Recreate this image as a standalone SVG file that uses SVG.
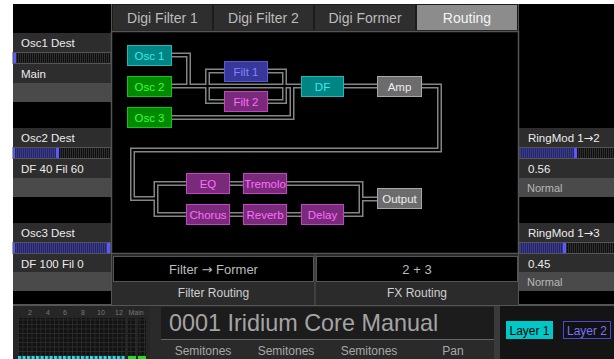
<svg xmlns="http://www.w3.org/2000/svg" width="614" height="359" viewBox="0 0 614 359">
<style>
text{font-family:"Liberation Sans",Arial,sans-serif}
.ar{font-family:"DejaVu Sans",sans-serif}
.lbl{font-size:11.5px;fill:#ececec}
.nrm{font-size:11px;fill:#b8b8b8}
.tab{font-size:14px;fill:#bdbdbd;text-anchor:middle}
.tabOn{font-size:14px;fill:#f4f4f4;text-anchor:middle}
.row{fill:#2d2d2d}
.grow{fill:#4a4a4a}
.bd{fill:none;stroke:#555;stroke-width:1}
.nd{font-size:11.5px;text-anchor:middle}
.teal rect{fill:#008585;stroke:#22b8b8}
.teal text{fill:#40e8e8}
.green rect{fill:#008a00;stroke:#12c412}
.green text{fill:#3cff3c}
.blue rect{fill:#38389a;stroke:#5858d8}
.blue text{fill:#8282ff}
.purp rect{fill:#7a2a7a;stroke:#c442c4}
.purp text{fill:#ff6cff}
.gray rect{fill:#6c6c6c;stroke:#a8a8a8}
.gray text{fill:#eeeeee}
.wo{fill:none;stroke:#858585;stroke-width:5}
.wi{fill:none;stroke:#000;stroke-width:2}
.fld{font-size:13px;fill:#bcbcbc;text-anchor:middle}
.fl2{font-size:12px;fill:#cfcfcf;text-anchor:middle}
.semi{font-size:12px;fill:#a8a8a8;text-anchor:middle}
.mt{font-size:7px;fill:#777;text-anchor:middle}
</style>
<defs>
<pattern id="slE" width="2" height="11" patternUnits="userSpaceOnUse"><rect width="2" height="11" fill="#0e0e0e"/><rect width="1" height="11" fill="#2f2f2f"/></pattern>
<pattern id="slF" width="2" height="11" patternUnits="userSpaceOnUse"><rect width="2" height="11" fill="#262664"/><rect width="1" height="11" fill="#3b3b8e"/></pattern>
<pattern id="grid" width="4.5" height="4.5" patternUnits="userSpaceOnUse"><rect width="4.5" height="4.5" fill="#121212"/><rect width="4.5" height="0.8" fill="#2c2c2c"/><rect width="0.8" height="4.5" fill="#2c2c2c"/></pattern>
<pattern id="cy" width="4.5" height="4" patternUnits="userSpaceOnUse"><rect width="3.2" height="4" fill="#1ee0e8"/></pattern>
<path id="c1" d="M172 55 H188.5 V86"/>
<path id="c2" d="M172 86 H301"/>
<path id="c3" d="M172 117.5 H292 V86"/>
<path id="c4" d="M224 71 H207.5 V101.5 H224"/>
<path id="c5" d="M268 71 H284.5 V101.5 H268"/>
<path id="c6" d="M344 86 H377"/>
<path id="c7" d="M422 86 H439.5 V150 H132.5 V198.5 H156"/>
<path id="c8" d="M186 183.5 H156 V214.5 H186"/>
<path id="c9" d="M229 183.5 H243"/>
<path id="c10" d="M287 183.5 H361 V214.5 H344"/>
<path id="c11" d="M229 214.5 H243 M287 214.5 H301"/>
<path id="c12" d="M361 199 H377"/>
</defs>

<rect width="614" height="359" fill="#ffffff"/>
<rect x="13" y="4" width="601" height="355" fill="#000"/>

<!-- left panel -->
<g id="left-panel">
  <g id="osc1-dest">
    <rect class="row" x="13" y="33" width="98" height="19"/>
    <text class="lbl" x="21" y="47">Osc1 Dest</text>
    <rect x="13" y="52" width="98" height="11" fill="url(#slE)"/>
    <rect x="13" y="52" width="3" height="11" fill="#5a5aff"/>
    <rect class="bd" x="13" y="52.5" width="98" height="11"/>
    <rect class="row" x="13" y="64" width="98" height="19"/>
    <text class="lbl" x="21" y="77.5">Main</text>
    <rect class="grow" x="13" y="83" width="98" height="19"/>
  </g>
  <g id="osc2-dest">
    <rect class="row" x="13" y="128" width="98" height="19"/>
    <text class="lbl" x="21" y="142">Osc2 Dest</text>
    <rect x="13" y="147" width="98" height="11" fill="url(#slE)"/>
    <rect x="13" y="147" width="45" height="11" fill="url(#slF)"/>
    <rect x="13" y="147" width="2" height="11" fill="#5a5aff"/>
    <rect x="56" y="147" width="3" height="11" fill="#5a5aff"/>
    <rect class="bd" x="13" y="147.5" width="98" height="11"/>
    <rect class="row" x="13" y="159" width="98" height="19"/>
    <text class="lbl" x="21" y="173">DF 40 Fil 60</text>
    <rect class="grow" x="13" y="178" width="98" height="19"/>
  </g>
  <g id="osc3-dest">
    <rect class="row" x="13" y="223" width="98" height="19"/>
    <text class="lbl" x="21" y="237">Osc3 Dest</text>
    <rect x="13" y="242" width="98" height="11" fill="url(#slF)"/>
    <rect x="13" y="242" width="2" height="11" fill="#5a5aff"/>
    <rect x="107" y="242" width="3" height="11" fill="#5a5aff"/>
    <rect class="bd" x="13" y="242.5" width="98" height="11"/>
    <rect class="row" x="13" y="254" width="98" height="18"/>
    <text class="lbl" x="21" y="267.5">DF 100 Fil 0</text>
    <rect class="grow" x="13" y="272" width="98" height="19"/>
  </g>
</g>

<!-- right panel -->
<g id="right-panel">
  <g id="ringmod12">
    <rect class="row" x="519" y="128" width="95" height="19"/>
    <text class="lbl" x="528" y="142">RingMod 1<tspan class="ar">→</tspan>2</text>
    <rect x="519" y="147" width="95" height="11" fill="url(#slE)"/>
    <rect x="519" y="147" width="57" height="11" fill="url(#slF)"/>
    <rect x="574" y="147" width="3" height="11" fill="#5a5aff"/>
    <rect class="bd" x="519" y="147.5" width="96" height="11"/>
    <rect class="row" x="519" y="159" width="95" height="19"/>
    <text class="lbl" x="528" y="173">0.56</text>
    <rect class="grow" x="519" y="178" width="95" height="19"/>
    <text class="nrm" x="527" y="192">Normal</text>
  </g>
  <g id="ringmod13">
    <rect class="row" x="519" y="223" width="95" height="19"/>
    <text class="lbl" x="528" y="237">RingMod 1<tspan class="ar">→</tspan>3</text>
    <rect x="519" y="242" width="95" height="11" fill="url(#slE)"/>
    <rect x="519" y="242" width="46" height="11" fill="url(#slF)"/>
    <rect x="563" y="242" width="3" height="11" fill="#5a5aff"/>
    <rect class="bd" x="519" y="242.5" width="96" height="11"/>
    <rect class="row" x="519" y="254" width="95" height="18"/>
    <text class="lbl" x="528" y="267.5">0.45</text>
    <rect class="grow" x="519" y="272" width="95" height="19"/>
    <text class="nrm" x="527" y="286">Normal</text>
  </g>
</g>

<!-- panel dividers -->
<g id="dividers">
  <line x1="111.5" y1="4" x2="111.5" y2="305" stroke="#555"/>
  <line x1="518.5" y1="4" x2="518.5" y2="305" stroke="#555"/>
  <line x1="13" y1="305" x2="614" y2="305" stroke="#555" stroke-width="2"/>
</g>

<!-- tabs -->
<g id="tabs">
  <rect x="112" y="4" width="406" height="28" fill="#1c1c1c"/>
  <g id="tab-df1"><rect x="113" y="5" width="99" height="25" fill="#2e2e2e"/><text class="tab" x="162.5" y="23">Digi Filter 1</text></g>
  <g id="tab-df2"><rect x="214" y="5" width="99" height="25" fill="#2e2e2e"/><text class="tab" x="263.5" y="23">Digi Filter 2</text></g>
  <g id="tab-dfo"><rect x="315" y="5" width="100" height="25" fill="#2e2e2e"/><text class="tab" x="365" y="23">Digi Former</text></g>
  <g id="tab-routing"><rect x="417" y="5" width="100" height="25" fill="#8c8c8c"/><text class="tabOn" x="467" y="23">Routing</text></g>
  <rect x="111.5" y="31.5" width="407" height="222" fill="#000" stroke="#555" stroke-width="1.5"/>
</g>

<!-- connectors -->
<g id="connectors">
  <g class="wo">
    <use href="#c1"/><use href="#c2"/><use href="#c3"/><use href="#c4"/><use href="#c5"/><use href="#c6"/>
    <use href="#c7"/><use href="#c8"/><use href="#c9"/><use href="#c10"/><use href="#c11"/><use href="#c12"/>
  </g>
  <g class="wi">
    <use href="#c1"/><use href="#c2"/><use href="#c3"/><use href="#c4"/><use href="#c5"/><use href="#c6"/>
    <use href="#c7"/><use href="#c8"/><use href="#c9"/><use href="#c10"/><use href="#c11"/><use href="#c12"/>
  </g>
</g>

<!-- nodes -->
<g id="osc1" class="teal"><rect x="127.5" y="45.5" width="44" height="20"/><text class="nd" x="149.5" y="59.5">Osc 1</text></g>
<g id="osc2" class="green"><rect x="127.5" y="76.5" width="44" height="20"/><text class="nd" x="149.5" y="90.5">Osc 2</text></g>
<g id="osc3" class="green"><rect x="127.5" y="107.5" width="44" height="20"/><text class="nd" x="149.5" y="121.5">Osc 3</text></g>
<g id="filt1" class="blue"><rect x="224.5" y="61.5" width="43" height="20"/><text class="nd" x="246" y="75.5">Filt 1</text></g>
<g id="filt2" class="purp"><rect x="224.5" y="91.5" width="43" height="20"/><text class="nd" x="246" y="105.5">Filt 2</text></g>
<g id="df" class="teal"><rect x="301.5" y="76.5" width="42" height="20"/><text class="nd" x="322.5" y="90.5">DF</text></g>
<g id="amp" class="gray"><rect x="377.5" y="76.5" width="44" height="20"/><text class="nd" x="399.5" y="90.5">Amp</text></g>
<g id="eq" class="purp"><rect x="186.5" y="173.5" width="43" height="20"/><text class="nd" x="208" y="187.5">EQ</text></g>
<g id="tremolo" class="purp"><rect x="243.5" y="173.5" width="43" height="20"/><text class="nd" x="265" y="187.5">Tremolo</text></g>
<g id="chorus" class="purp"><rect x="186.5" y="204.5" width="43" height="20"/><text class="nd" x="208" y="218.5">Chorus</text></g>
<g id="reverb" class="purp"><rect x="243.5" y="204.5" width="43" height="20"/><text class="nd" x="265" y="218.5">Reverb</text></g>
<g id="delay" class="purp"><rect x="301.5" y="204.5" width="42" height="20"/><text class="nd" x="322.5" y="218.5">Delay</text></g>
<g id="output" class="gray"><rect x="377.5" y="188.5" width="44" height="20"/><text class="nd" x="399.5" y="202.5">Output</text></g>

<!-- routing fields -->
<g id="filter-routing">
  <rect x="112" y="254" width="203" height="51" fill="#2b2b2b"/>
  <rect x="113.5" y="256.5" width="200" height="25" fill="#000" stroke="#555"/>
  <text class="fld" x="213.5" y="274">Filter <tspan class="ar">→</tspan> Former</text>
  <text class="fl2" x="213.5" y="297">Filter Routing</text>
</g>
<g id="fx-routing">
  <rect x="315" y="254" width="203" height="51" fill="#2b2b2b"/>
  <line x1="315" y1="254" x2="315" y2="305" stroke="#555"/>
  <rect x="316.5" y="256.5" width="201" height="25" fill="#000" stroke="#555"/>
  <text class="fld" x="417" y="274">2 + 3</text>
  <text class="fl2" x="417" y="297">FX Routing</text>
</g>

<!-- bottom meters -->
<g id="meters">
  <rect x="13" y="306" width="137" height="53" fill="#262626"/>
  <text class="mt" x="30" y="315">2</text>
  <text class="mt" x="48" y="315">4</text>
  <text class="mt" x="65" y="315">6</text>
  <text class="mt" x="83" y="315">8</text>
  <text class="mt" x="101" y="315">10</text>
  <text class="mt" x="119" y="315">12</text>
  <text class="mt" x="136" y="315">Main</text>
  <rect x="18" y="318" width="107" height="41" fill="url(#grid)"/>
  <rect x="18" y="356" width="107" height="3" fill="url(#cy)"/>
  <rect x="128" y="318" width="8" height="41" fill="url(#grid)"/>
  <rect x="138" y="318" width="8" height="41" fill="url(#grid)"/>
  <rect x="128" y="356" width="8" height="3" fill="#22dd22"/>
  <rect x="138" y="356" width="8" height="3" fill="#22dd22"/>
</g>

<!-- preset title -->
<g id="preset">
  <rect x="150" y="306" width="344" height="53" fill="#2a2a2a"/>
  <rect x="161" y="307" width="333" height="32" fill="#1c1c1c"/>
  <line x1="161" y1="339.5" x2="494" y2="339.5" stroke="#666"/>
  <text x="169" y="331" font-size="23.4" fill="#a4a4a4">0001 Iridium Core Manual</text>
  <text class="semi" x="203" y="355">Semitones</text>
  <text class="semi" x="286" y="355">Semitones</text>
  <text class="semi" x="369" y="355">Semitones</text>
  <text class="semi" x="453" y="355">Pan</text>
  <rect x="494" y="306" width="6" height="53" fill="#3a3a3a"/>
</g>

<!-- layers -->
<g id="layers">
  <rect x="500" y="306" width="114" height="53" fill="#141414"/>
  <g id="layer1"><rect x="506" y="321" width="47" height="18" fill="#00c8c8"/><text x="529.5" y="334.5" font-size="12" fill="#000" text-anchor="middle">Layer 1</text></g>
  <g id="layer2"><rect x="563.5" y="321.5" width="47" height="17" fill="#111" stroke="#4a4ad0"/><text x="587" y="334.5" font-size="12" fill="#7474ff" text-anchor="middle">Layer 2</text></g>
</g>
</svg>
